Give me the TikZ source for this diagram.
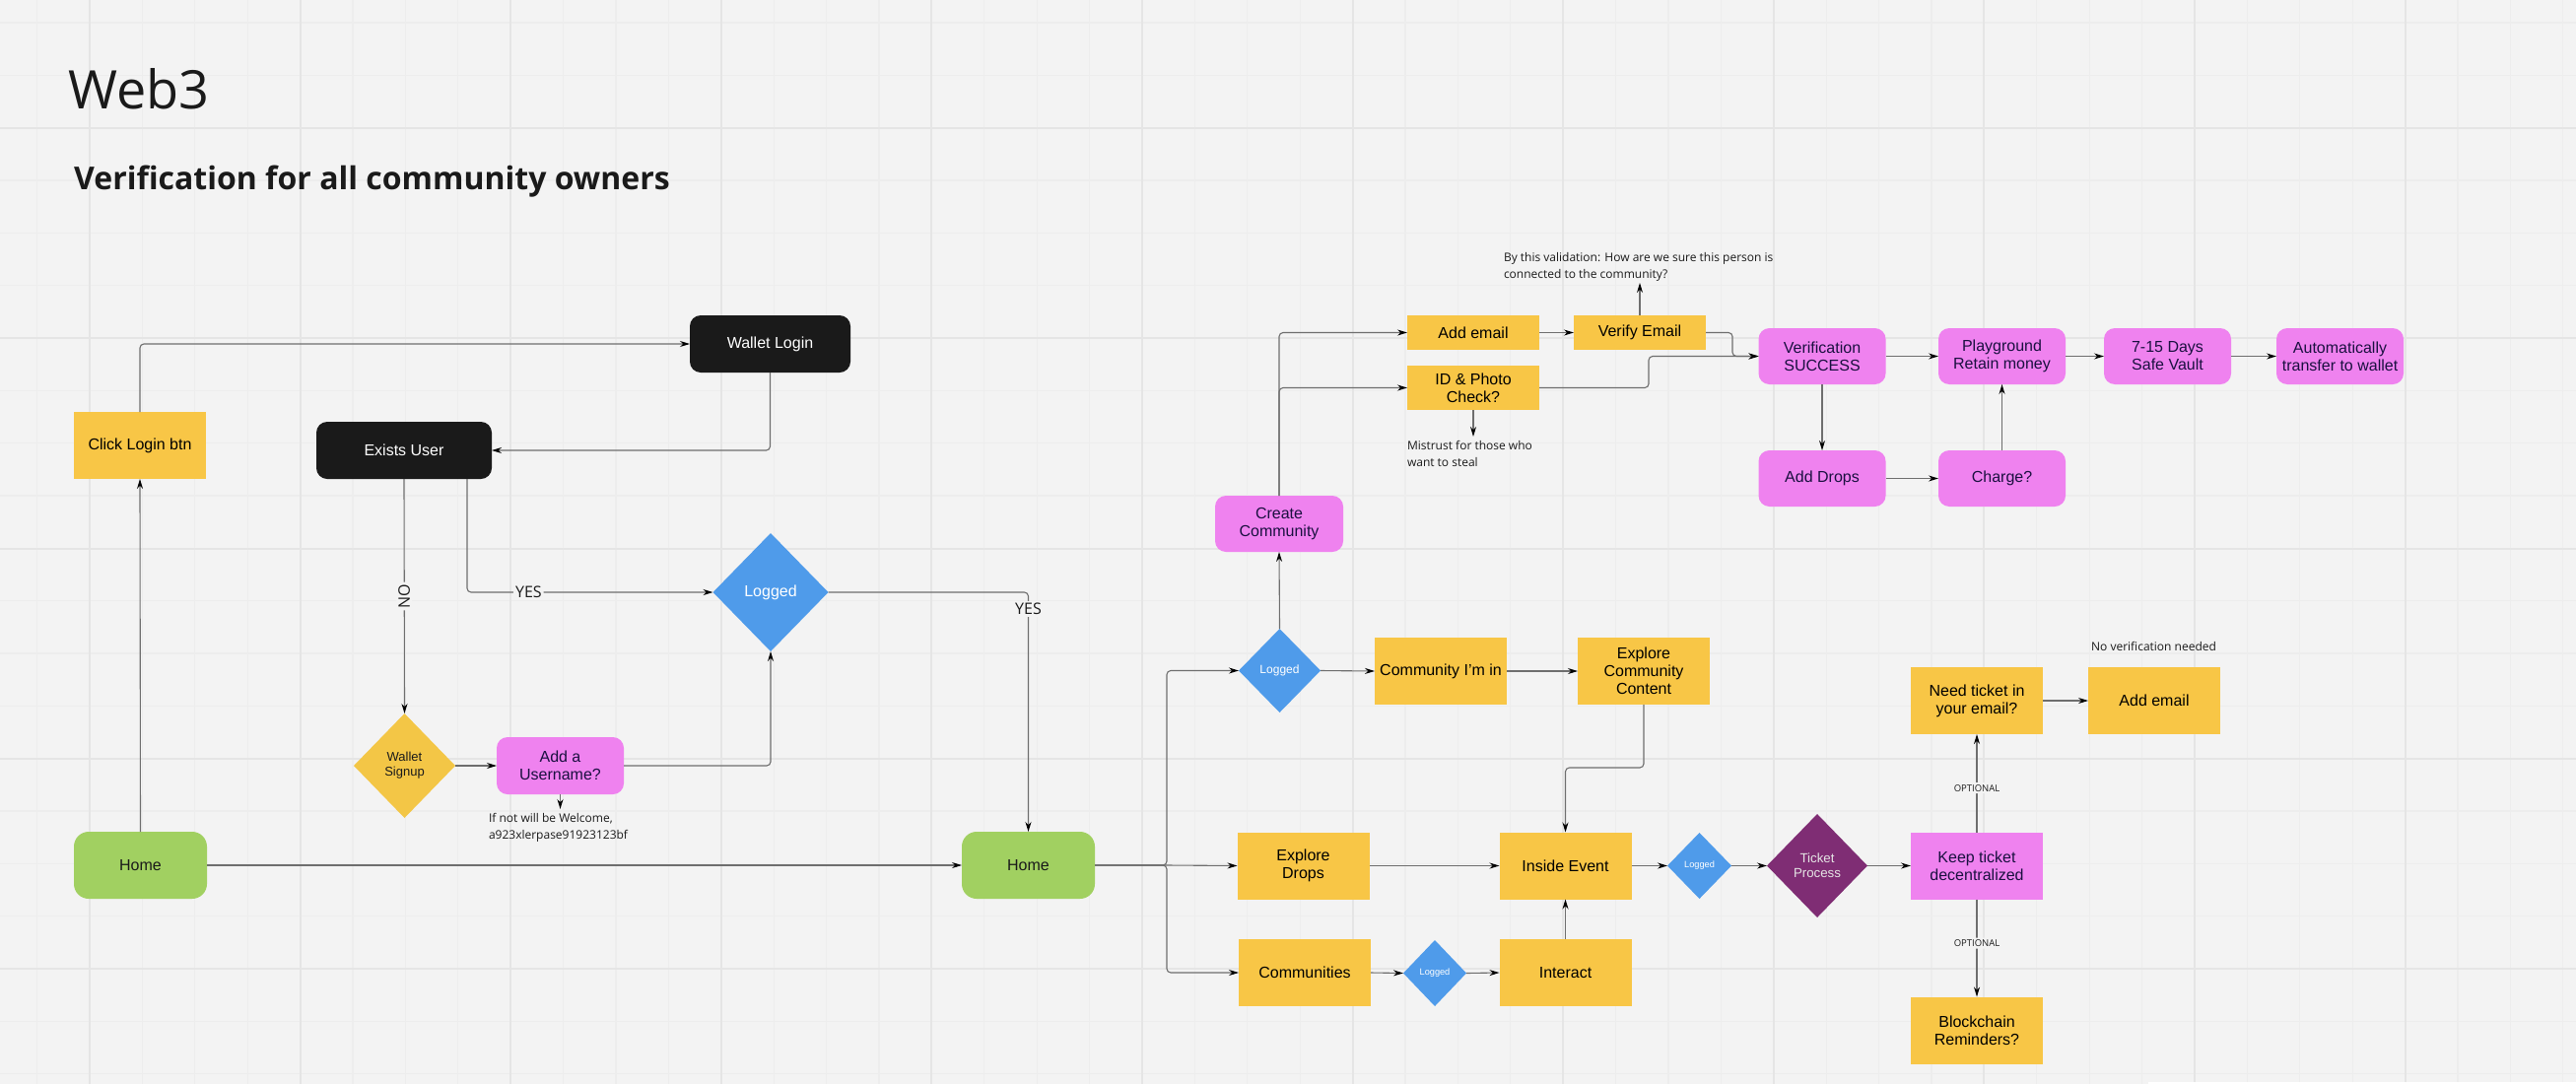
\documentclass[tikz,border=0pt]{standalone}
\usepackage{fontspec}
\setmainfont{Liberation Sans}
\newfontfamily\notefont{Open Sans}
\usetikzlibrary{arrows.meta,shapes.geometric}
\definecolor{bgc}{HTML}{F3F3F3}
\definecolor{gridminor}{HTML}{EDEDED}
\definecolor{gridmajor}{HTML}{E5E5E5}
\definecolor{yelc}{HTML}{F8C646}
\definecolor{yeld}{HTML}{F3C646}
\definecolor{pinkc}{HTML}{EF82EF}
\definecolor{bluec}{HTML}{4F9BEA}
\definecolor{greenc}{HTML}{A1D061}
\definecolor{purpc}{HTML}{7F2D74}
\definecolor{blackc}{HTML}{1A1A1A}
\definecolor{inkc}{HTML}{1A1040}
\definecolor{linec}{HTML}{6E6E6E}
\tikzset{
  base/.style={inner sep=0pt,outer sep=0pt,align=center,font=\fontsize{16}{18}\selectfont},
  dim/.style 2 args={minimum width=#1pt,minimum height=#2pt},
  ybox/.style={base,rectangle,fill=yelc,text=black},
  pbox/.style={base,rectangle,rounded corners=11pt,fill=pinkc,text=inkc},
  kbox/.style={base,rectangle,rounded corners=11pt,fill=blackc,text=white},
  hbox/.style={base,rectangle,rounded corners=15pt,fill=greenc,text=blackc},
  sqpink/.style={base,rectangle,fill=pinkc,text=inkc},
  dia/.style={base,diamond,aspect=1},
  note/.style={inner sep=0pt,outer sep=0pt,align=left,font=\notefont\fontsize{12}{17}\selectfont,text=blackc},
  tag/.style={inner sep=2pt,fill=bgc,font=\notefont\fontsize{16}{18}\selectfont,text=blackc},
  tagsmall/.style={inner sep=2pt,fill=bgc,font=\notefont\fontsize{9.5}{11}\selectfont,text=blackc},
  link/.style={draw=linec,line width=1.1pt,rounded corners=4pt,-{Stealth[length=10pt,width=6pt,color=black]}},
}
\begin{document}
\begin{tikzpicture}[x=1pt,y=-1pt]
\useasboundingbox (0,0) rectangle (2614,1100);
\fill[bgc] (0,0) rectangle (2614,1100);
% grid
\foreach \k in {0,...,48}{\draw[gridminor,line width=1.2pt] ({37.6+53.4*\k},0) -- ({37.6+53.4*\k},1100);}
\foreach \k in {0,...,20}{\draw[gridminor,line width=1.2pt] (0,{23+53.33*\k}) -- (2614,{23+53.33*\k});}
\foreach \k in {0,...,11}{\draw[gridmajor,line width=2pt] ({91+213.6*\k},0) -- ({91+213.6*\k},1100);}
\foreach \k in {0,...,4}{\draw[gridmajor,line width=2pt] (0,{130+213.3*\k}) -- (2614,{130+213.3*\k});}
\fill[white] (2180,1098) rectangle (2614,1100);
% titles
\node[inner sep=0pt,anchor=base west,font=\notefont\fontsize{54}{60}\selectfont,text=blackc] (title) at (69,110) {Web3};
\node[inner sep=0pt,anchor=base west,font=\notefont\bfseries\fontsize{32}{38}\selectfont,text=blackc] (subtitle) at (75,192) {Verification for all community owners};
% left part
\node[hbox,dim={135}{68}] (home1) at (142.5,878) {Home};
\node[ybox,dim={134}{68}] (click) at (142,452) {Click Login btn};
\node[kbox,dim={163}{58}] (wallet) at (781.5,349) {Wallet Login};
\node[kbox,dim={178}{58}] (exists) at (410,457) {Exists User};
\node[dia,fill=bluec,text=white,dim={117}{120}] (logged1) at (782,601) {Logged};
\node[dia,fill=yeld,text=blackc,font=\fontsize{13}{15}\selectfont,dim={103}{106}] (signup) at (410.5,777) {Wallet\\Signup};
\node[pbox,dim={129}{58}] (username) at (568.5,777) {Add a\\Username?};
\coordinate (usernote) at (568.5,821);
\node[note,anchor=north west] (welcome) at (496,825) {If not will be Welcome,\\a923xlerpase91923123bf};
\node[hbox,dim={135}{68}] (home2) at (1043.5,878) {Home};
% upper right
\node[pbox,dim={130}{57}] (create) at (1298,531.5) {Create\\Community};
\node[ybox,dim={134}{35}] (addemail) at (1495,337.5) {Add email};
\node[ybox,dim={134}{35}] (verify) at (1664,337.5) {Verify Email};
\node[ybox,dim={134}{45}] (idcheck) at (1495,393.5) {ID \& Photo\\Check?};
\node[note,anchor=north west] (bythis) at (1526,256) {By this validation: How are we sure this person is\\connected to the community?};
\coordinate (bythisend) at (1664,287);
\node[note,anchor=north west] (mistrust) at (1428,447) {Mistrust for those who\\want to steal};
\coordinate (mistrustend) at (1495,443);
\node[pbox,dim={129}{57}] (success) at (1849,361.5) {Verification\\SUCCESS};
\node[pbox,dim={129}{57}] (playground) at (2031.5,361.5) {Playground\\Retain money};
\node[pbox,dim={129}{57}] (vault) at (2199.5,361.5) {7-15 Days\\Safe Vault};
\node[pbox,dim={129}{57}] (auto) at (2374.5,361.5) {Automatically\\transfer to wallet};
\node[pbox,dim={129}{57}] (drops) at (1849,485.5) {Add Drops};
\node[pbox,dim={129}{57}] (charge) at (2031.5,485.5) {Charge?};
% lower right
\node[dia,fill=bluec,text=white,font=\fontsize{12}{14}\selectfont,dim={83}{85}] (logged2) at (1298.5,680.5) {Logged};
\node[ybox,dim={134}{68}] (inin) at (1462,681) {Community I'm in};
\node[ybox,dim={134}{68}] (content) at (1668,681) {Explore\\Community\\Content};
\node[ybox,dim={134}{68}] (expdrops) at (1322.5,878.5) {Explore\\Drops};
\node[ybox,dim={134}{68}] (inside) at (1588.5,878.5) {Inside Event};
\node[ybox,dim={134}{68}] (communities) at (1324,987) {Communities};
\node[dia,fill=bluec,text=white,font=\fontsize{9.2}{11}\selectfont,dim={64}{67}] (logged3) at (1456,987.5) {Logged};
\node[ybox,dim={134}{68}] (interact) at (1588.5,987) {Interact};
\node[dia,fill=bluec,text=white,font=\fontsize{9.2}{11}\selectfont,dim={65}{67}] (logged4) at (1724.5,878.5) {Logged};
\node[dia,fill=purpc,text=white!90!black,font=\fontsize{13.3}{15.3}\selectfont,dim={102}{105}] (ticket) at (1844,878.5) {Ticket\\Process};
\node[sqpink,dim={134}{68}] (keep) at (2006,878.5) {Keep ticket\\decentralized};
\node[ybox,dim={134}{68}] (need) at (2006,711) {Need ticket in\\your email?};
\node[ybox,dim={134}{68}] (addemail2) at (2186,711) {Add email};
\node[ybox,dim={134}{68}] (reminders) at (2006,1045.5) {Blockchain\\Reminders?};
\node[note,anchor=center] (noverif) at (2185.5,656) {No verification needed};
% connectors
\draw[link] (home1.north) -- (click.south);
\draw[link] (click.north) |- (wallet.west);
\draw[link] (wallet.south) |- (exists.east);
\draw[link] (exists.south) -- node[tag,rotate=90,pos=0.5] (nolabel) {NO} (signup.north);
\draw[link] ([xshift=64pt]exists.south) |- node[tag,pos=0.625] (yeslabel1) {YES} (logged1.west);
\draw[link] (signup.east) -- (username.west);
\draw[link] (username.east) -| (logged1.south);
\draw[link] (username.south) -- (usernote);
\draw[link] (home1.east) -- (home2.west);
\draw[link] (logged1.east) -| node[tag,pos=0.535] (yeslabel2) {YES} (home2.north);
\coordinate (branch) at (1184,878);
\draw[link] (home2.east) -- (branch) |- (logged2.west);
\draw[link] (home2.east) -- (branch) -- (expdrops.west);
\draw[link] (home2.east) -- (branch) |- (communities.west);
\draw[link] (logged2.north) -- (create.south);
\draw[link] (create.north) |- (addemail.west);
\draw[link] (create.north) |- (idcheck.west);
\draw[link] (addemail.east) -- (verify.west);
\draw[link] (verify.north) -- (bythisend);
\draw[link] (idcheck.south) -- (mistrustend);
\draw[link] (verify.east) -- (1758,337.5) -- (1758,361.5) -- (success.west);
\draw[link] (idcheck.east) -- (1673,393.5) -- (1673,361.5) -- (success.west);
\draw[link] (success.east) -- (playground.west);
\draw[link] (playground.east) -- (vault.west);
\draw[link] (vault.east) -- (auto.west);
\draw[link] (success.south) -- (drops.north);
\draw[link] (drops.east) -- (charge.west);
\draw[link] (charge.north) -- (playground.south);
\draw[link] (logged2.east) -- (inin.west);
\draw[link] (inin.east) -- (content.west);
\draw[link] (content.south) -- (1668,779) -- (1588.5,779) -- (inside.north);
\draw[link] (expdrops.east) -- (inside.west);
\draw[link] (communities.east) -- (logged3.west);
\draw[link] (logged3.east) -- (interact.west);
\draw[link] (interact.north) -- (inside.south);
\draw[link] (inside.east) -- (logged4.west);
\draw[link] (logged4.east) -- (ticket.west);
\draw[link] (ticket.east) -- (keep.west);
\draw[link] (keep.north) -- node[tagsmall,pos=0.45] (opt1) {OPTIONAL} (need.south);
\draw[link] (keep.south) -- node[tagsmall,pos=0.45] (opt2) {OPTIONAL} (reminders.north);
\draw[link] (need.east) -- (addemail2.west);
\end{tikzpicture}
\end{document}
